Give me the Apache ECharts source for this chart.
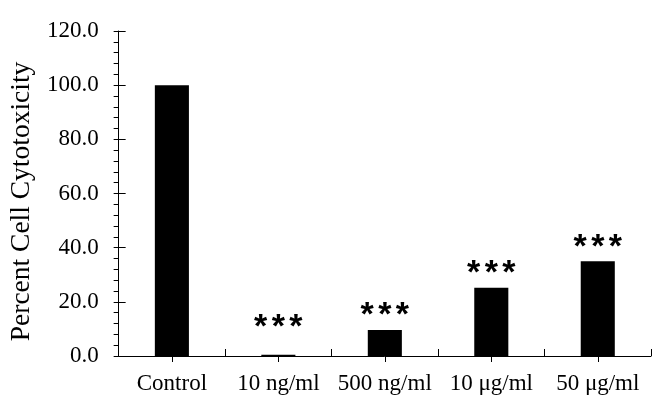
<!DOCTYPE html>
<html>
<head>
<meta charset="utf-8">
<script src="https://cdn.jsdelivr.net/npm/echarts@6/dist/echarts.min.js"></script>
<style>
  html, body { margin: 0; padding: 0; background: #fff; }
  #chart { width: 661px; height: 416px; }
</style>
</head>
<body>
<div id="chart"></div>
<script>
// 细胞毒性柱状图
var categories = ['Control', '10 ng/ml', '500 ng/ml', '10 \u03bcg/ml', '50 \u03bcg/ml'];
var cytotoxicity = [100.0, 0.5, 9.6, 25.2, 35.0];
var significance = ['', '***', '***', '***', '***'];
var yTicks = { min: 0, max: 120, interval: 20 };

var chart = echarts.init(document.getElementById('chart'));
var serif = "'Liberation Serif', 'Times New Roman', serif";
var sans = "'Liberation Sans', Arial, sans-serif";

var barData = cytotoxicity.map(function (v, i) {
    var item = { value: v };
    if (i === 1) {
        item.label = { distance: 10 }; // 10 ng/ml 星号位置偏高
    }
    return item;
});

var option = {
    backgroundColor: '#fff',
    animation: false,
    grid: { left: 118, right: 10, top: 31, bottom: 60 },
    xAxis: [
        {
            type: 'category',
            data: categories,
            axisLine: { lineStyle: { color: '#000', width: 1 } },
            axisTick: { show: true, inside: true, length: 7, lineStyle: { color: '#000' } },
            axisLabel: { color: '#000', fontFamily: serif, fontSize: 23, margin: 16, interval: 0 },
            splitLine: { show: false }
        },
        {
            type: 'category',
            data: categories,
            position: 'bottom',
            axisLine: { show: false },
            axisTick: { show: true, alignWithLabel: true, length: 6, lineStyle: { color: '#000' } },
            axisLabel: { show: false },
            splitLine: { show: false }
        }
    ],
    yAxis: [
        {
            type: 'value',
            min: yTicks.min,
            max: yTicks.max,
            interval: yTicks.interval,
            name: 'Percent Cell Cytotoxicity',
            nameLocation: 'middle',
            nameGap: 63,
            nameTextStyle: { color: '#000', fontFamily: serif, fontSize: 27.5, padding: [0, 16, 0, 0] },
            axisLine: { show: true, lineStyle: { color: '#000', width: 1 } },
            axisTick: { show: true, length: 5, lineStyle: { color: '#000' } },
            minorTick: { show: true, splitNumber: 5, length: 5, lineStyle: { color: '#000' } },
            axisLabel: {
                color: '#000', fontFamily: serif, fontSize: 23, margin: 20,
                formatter: function (v) { return v.toFixed(1); }
            },
            splitLine: { show: false }
        },
        {
            type: 'value',
            min: yTicks.min,
            max: yTicks.max,
            interval: yTicks.interval,
            position: 'left',
            axisLine: { show: false },
            axisTick: { show: true, inside: true, length: 7, lineStyle: { color: '#000' } },
            axisLabel: { show: false },
            splitLine: { show: false }
        }
    ],
    series: [
        {
            name: 'Percent Cell Cytotoxicity',
            type: 'bar',
            xAxisIndex: 0,
            yAxisIndex: 0,
            barWidth: '32%',
            data: barData,
            itemStyle: { color: '#000' },
            label: {
                show: true,
                position: 'top',
                distance: -3,
                color: '#000',
                formatter: function (p) {
                    return significance[p.dataIndex].split('').map(function (c) {
                        return '{s|' + c + '}';
                    }).join('');
                },
                rich: {
                    s: {
                        fontFamily: sans,
                        fontWeight: 'bold',
                        fontSize: 34,
                        padding: [0, 2.2],
                        color: '#000'
                    }
                }
            }
        }
    ]
};

chart.setOption(option);
</script>
</body>
</html>
